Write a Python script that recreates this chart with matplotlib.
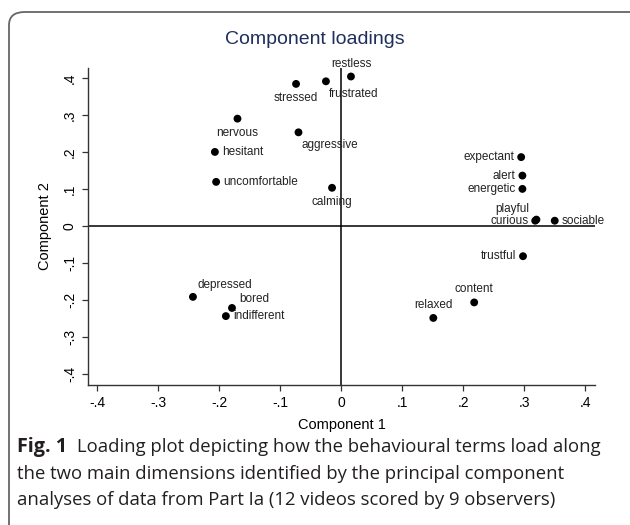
import matplotlib
matplotlib.use("Agg")
import matplotlib.pyplot as plt
from matplotlib.patches import FancyBboxPatch

# ---- data ----
terms = ["restless", "frustrated", "stressed", "nervous", "aggressive",
         "hesitant", "uncomfortable", "calming", "expectant", "alert",
         "energetic", "playful", "curious", "sociable", "trustful",
         "content", "relaxed", "depressed", "bored", "indifferent"]
comp1 = [0.016, -0.025, -0.074, -0.170, -0.070,
         -0.207, -0.205, -0.015, 0.295, 0.297,
         0.297, 0.320, 0.318, 0.350, 0.298,
         0.218, 0.151, -0.243, -0.179, -0.189]
comp2 = [0.405, 0.392, 0.385, 0.291, 0.254,
         0.201, 0.120, 0.104, 0.187, 0.137,
         0.101, 0.018, 0.015, 0.015, -0.081,
         -0.206, -0.248, -0.191, -0.221, -0.243]
# marker label clock positions (Stata style)
label_pos = [12, 5, 6, 6, 5,
             3, 3, 6, 9, 9,
             9, 10, 9, 3, 9,
             12, 12, 1, 2, 3]
xticks = [-0.4, -0.3, -0.2, -0.1, 0, 0.1, 0.2, 0.3, 0.4]
xticklabels = ["-.4", "-.3", "-.2", "-.1", "0", ".1", ".2", ".3", ".4"]
yticks = [-0.4, -0.3, -0.2, -0.1, 0, 0.1, 0.2, 0.3, 0.4]
yticklabels = ["-.4", "-.3", "-.2", "-.1", "0", ".1", ".2", ".3", ".4"]

plt.rcParams['font.family'] = ['Liberation Sans', 'DejaVu Sans']

W, H = 630, 525
fig = plt.figure(figsize=(W / 100, H / 100), dpi=100)

# border box
box = FancyBboxPatch((9 / W, -20 / H), (W + 20) / W, (H + 8) / H,
                     boxstyle="round,pad=0,rounding_size=0.025",
                     transform=fig.transFigure, facecolor='none',
                     edgecolor='#666666', linewidth=1.3)
fig.patches.append(box)

ax = fig.add_axes([88 / W, 1 - 384.5 / H, (595 - 88) / W, (384.5 - 68) / H])
ax.set_xlim(-0.415, 0.416)
ax.set_ylim(-0.428, 0.428)
ax.patch.set_alpha(0)

for s in ['top', 'right']:
    ax.spines[s].set_visible(False)
for s in ['left', 'bottom']:
    ax.spines[s].set_color('#333333')
    ax.spines[s].set_linewidth(1.0)

ax.axhline(0, color='black', lw=1.1, zorder=1)
ax.axvline(0, color='black', lw=1.1, zorder=1)

ax.scatter(comp1, comp2, s=32, color='black', zorder=3, edgecolors='none')

offsets = {
    12: ((0, 5), 'center', 'bottom'),
    1: ((3, 4), 'left', 'bottom'),
    2: ((5, 2), 'left', 'bottom'),
    3: ((5, 0), 'left', 'center'),
    5: ((2, -5), 'left', 'top'),
    6: ((0, -6), 'center', 'top'),
    9: ((-5, 0), 'right', 'center'),
    10: ((-5, 3), 'right', 'bottom'),
    11: ((-3, 4), 'right', 'bottom'),
}
for t, x, y, p in zip(terms, comp1, comp2, label_pos):
    (dx, dy), ha, va = offsets[p]
    ax.annotate(t, (x, y), xytext=(dx, dy), textcoords='offset points',
                ha=ha, va=va, fontsize=8.5, color='#222222', zorder=4)

ax.set_xticks(xticks)
ax.set_xticklabels(xticklabels, fontsize=10)
ax.set_yticks(yticks)
ax.set_yticklabels(yticklabels, fontsize=10, rotation=90, va='center')
ax.tick_params(length=4, width=0.9, color='#333333', pad=4)

ax.set_xlabel("Component 1", fontsize=10.5, labelpad=6)
ax.set_ylabel("Component 2", fontsize=10.5, labelpad=8)

fig.text(0.5, 1 - 40 / H, "Component loadings", ha='center', va='center',
         fontsize=14, color='#1f2f5c')

# caption
cap_font = ['Open Sans', 'DejaVu Sans']
cap_size = 13.35
cap_color = '#231f20'
y1 = 1 - 447 / H
t_bold = fig.text(17 / W, y1, "Fig. 1", fontsize=14.2, fontweight='bold',
                  family=cap_font, va='center', color=cap_color)
fig.canvas.draw()
r = fig.canvas.get_renderer()
bb = t_bold.get_window_extent(r)
x_rest = (bb.x1 + 10) / W
fig.text(x_rest, y1, "Loading plot depicting how the behavioural terms load along",
         fontsize=cap_size, family=cap_font, va='center', color=cap_color)
fig.text(17 / W, 1 - 474 / H,
         "the two main dimensions identified by the principal component",
         fontsize=cap_size, family=cap_font, va='center', color=cap_color)
fig.text(17 / W, 1 - 500 / H,
         "analyses of data from Part Ia (12 videos scored by 9 observers)",
         fontsize=cap_size, family=cap_font, va='center', color=cap_color)

fig.savefig("out.png", dpi=100)
